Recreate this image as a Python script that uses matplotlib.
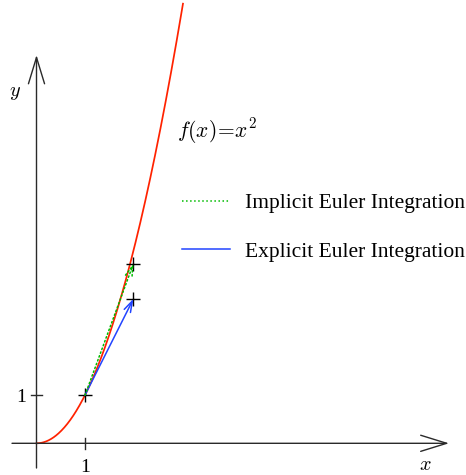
import matplotlib
matplotlib.use("Agg")
import matplotlib.pyplot as plt
import numpy as np
from matplotlib.lines import Line2D

plt.rcParams['mathtext.fontset'] = 'cm'
plt.rcParams['font.family'] = ['Liberation Serif', 'DejaVu Serif']

# data
x0, y0 = 1.0, 1.0
explicit_end = (2.0, 3.0)
implicit_end = (2.0, 3.73)
curve_x = np.linspace(0, 3.02, 300)
curve_y = curve_x ** 2
tick_x = [1]
tick_y = [1]

W, H = 466, 475
XO, XS = 36.5, 48.5
YO, YS = 443.3, 48.2
fig = plt.figure(figsize=(W / 100, H / 100), dpi=100)
ax = fig.add_axes([0, 0, 1, 1])
ax.set_axis_off()
ax.set_xlim(-XO / XS, (W - XO) / XS)
ax.set_ylim((YO - H) / YS, YO / YS)

def px(xp):
    return (xp - XO) / XS

def py(yp):
    return (YO - yp) / YS

axis_col = '#2a2a2a'
ax.annotate('', xy=(px(449), 0), xytext=(px(12), 0),
            arrowprops=dict(arrowstyle='->,head_length=1.87,head_width=0.58',
                            color=axis_col, lw=1.0, shrinkA=0, shrinkB=0))
ax.annotate('', xy=(0, py(55)), xytext=(0, py(468)),
            arrowprops=dict(arrowstyle='->,head_length=1.9,head_width=0.58',
                            color=axis_col, lw=1.0, shrinkA=0, shrinkB=0))

for t in tick_x:
    ax.plot([t, t], [-5.5 / YS, 5.5 / YS], color=axis_col, lw=1.0)
    ax.text(t, py(467), str(t), ha='center', va='center', fontsize=14)
for t in tick_y:
    ax.plot([-5.5 / XS, 5.5 / XS], [t, t], color=axis_col, lw=1.0)
    ax.text(px(21), py(397), str(t), ha='center', va='center', fontsize=14)

ax.text(px(425), py(466), r'$x$', ha='center', va='center', fontsize=14.5)
ax.text(px(15), py(93), r'$y$', ha='center', va='center', fontsize=14.5)

ax.plot(curve_x, curve_y, color='#ff2200', lw=1.25)

ax.annotate('', xy=explicit_end, xytext=(x0, y0),
            arrowprops=dict(arrowstyle='->,head_length=0.8,head_width=0.25',
                            color='#2244ff', lw=1.1, shrinkA=0, shrinkB=0))
ax.annotate('', xy=implicit_end, xytext=(x0, y0),
            arrowprops=dict(arrowstyle='->,head_length=0.8,head_width=0.25',
                            color='#00bb00', lw=1.1, ls=':', shrinkA=0, shrinkB=0))

pts_x = [x0, explicit_end[0], implicit_end[0]]
pts_y = [y0, explicit_end[1], implicit_end[1]]
ax.plot(pts_x, pts_y, '+', color='black', ms=10, mew=1.0)

ax.text(px(177), py(131), r'$f(x)\!=\!x^2$', ha='left', va='center', fontsize=15.5)

handles = [Line2D([], [], color='#00bb00', lw=1.1, ls=':'),
           Line2D([], [], color='#2244ff', lw=1.1)]
labels = ['Implicit Euler Integration', 'Explicit Euler Integration']
fig.legend(handles, labels, loc='upper left', bbox_to_anchor=(182 / W, 1 - 193 / H),
           frameon=False, fontsize=15.5, handlelength=2.23, handletextpad=0.7,
           labelspacing=1.33, borderaxespad=0, borderpad=0)

fig.savefig('out.png', dpi=100)
